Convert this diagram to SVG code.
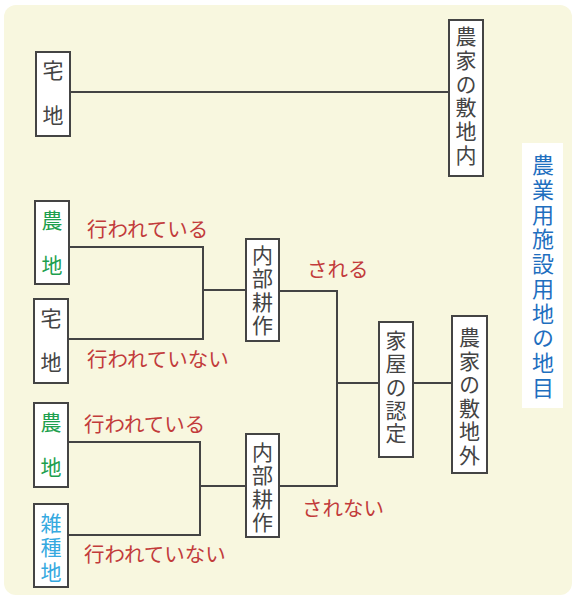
<svg xmlns="http://www.w3.org/2000/svg" width="575" height="597" viewBox="0 0 575 597">
<style>
.bg{fill:#f8f7df}
.box{fill:#fff;stroke:#444;stroke-width:2}
.ln{fill:none;stroke:#444;stroke-width:2}
text{font-family:"Noto Sans CJK JP","Noto Sans",sans-serif}
.v{writing-mode:vertical-rl;text-anchor:start;dominant-baseline:central;font-size:21px}
.t{fill:#444}
.g{fill:#1d9f4e}
.b{fill:#35a9df}
.r{fill:#c23b3b;font-size:20.5px;text-anchor:start;dominant-baseline:central}
.ti{fill:#1f6fbf;font-size:22px}
</style>
<rect class="bg" x="4" y="5" width="568" height="590" rx="12"/>
<g id="connectors">
<path class="ln" d="M70 92H449"/>
<path class="ln" d="M69 247H203V339H68M203 290H246"/>
<path class="ln" d="M68 442H200V535H68M200 486H246"/>
<path class="ln" d="M279 291H337V486H279M337 383H379M413 383H452"/>
</g>
<g id="title">
<rect x="522" y="143" width="41" height="265" fill="#fff"/>
<text class="v ti" x="543" y="154" letter-spacing="2.7">農業用施設用地の地目</text>
</g>
<g id="n-takuchi1"><rect class="box" x="36" y="52" width="34" height="84"/><text class="v t" x="53" y="59.5" letter-spacing="24">宅地</text></g>
<g id="n-shikichinai"><rect class="box" x="449" y="20" width="34" height="156"/><text class="v t" x="466" y="25.5" letter-spacing="2.8">農家の敷地内</text></g>
<g id="n-nouchi1"><rect class="box" x="35" y="201" width="34" height="83"/><text class="v g" x="52" y="209.5" letter-spacing="24">農地</text></g>
<g id="n-takuchi2"><rect class="box" x="34" y="299" width="34" height="84"/><text class="v t" x="51" y="307.5" letter-spacing="23">宅地</text></g>
<g id="n-naibu1"><rect class="box" x="246" y="239" width="33" height="102"/><text class="v t" x="262.5" y="244.5" letter-spacing="2.3">内部耕作</text></g>
<g id="n-nouchi2"><rect class="box" x="34" y="403" width="34" height="84"/><text class="v g" x="51" y="411.5" letter-spacing="24">農地</text></g>
<g id="n-zasshu"><rect class="box" x="34" y="504" width="34" height="83"/><text class="v b" x="51" y="512.5" letter-spacing="3.5">雑種地</text></g>
<g id="n-naibu2"><rect class="box" x="246" y="434" width="33" height="103"/><text class="v t" x="262.5" y="441.5" letter-spacing="2.3">内部耕作</text></g>
<g id="n-kaoku"><rect class="box" x="379" y="322" width="34" height="135"/><text class="v t" x="396" y="329.5" letter-spacing="2.3">家屋の認定</text></g>
<g id="n-shikichigai"><rect class="box" x="452" y="316" width="35" height="157"/><text class="v t" x="469.5" y="326.5" letter-spacing="2.6">農家の敷地外</text></g>
<g id="labels">
<text class="r" x="87" y="228">行われている</text>
<text class="r" x="87" y="358">行われていない</text>
<text class="r" x="307" y="268">される</text>
<text class="r" x="84" y="423">行われている</text>
<text class="r" x="84" y="553">行われていない</text>
<text class="r" x="302" y="507">されない</text>
</g>
</svg>
